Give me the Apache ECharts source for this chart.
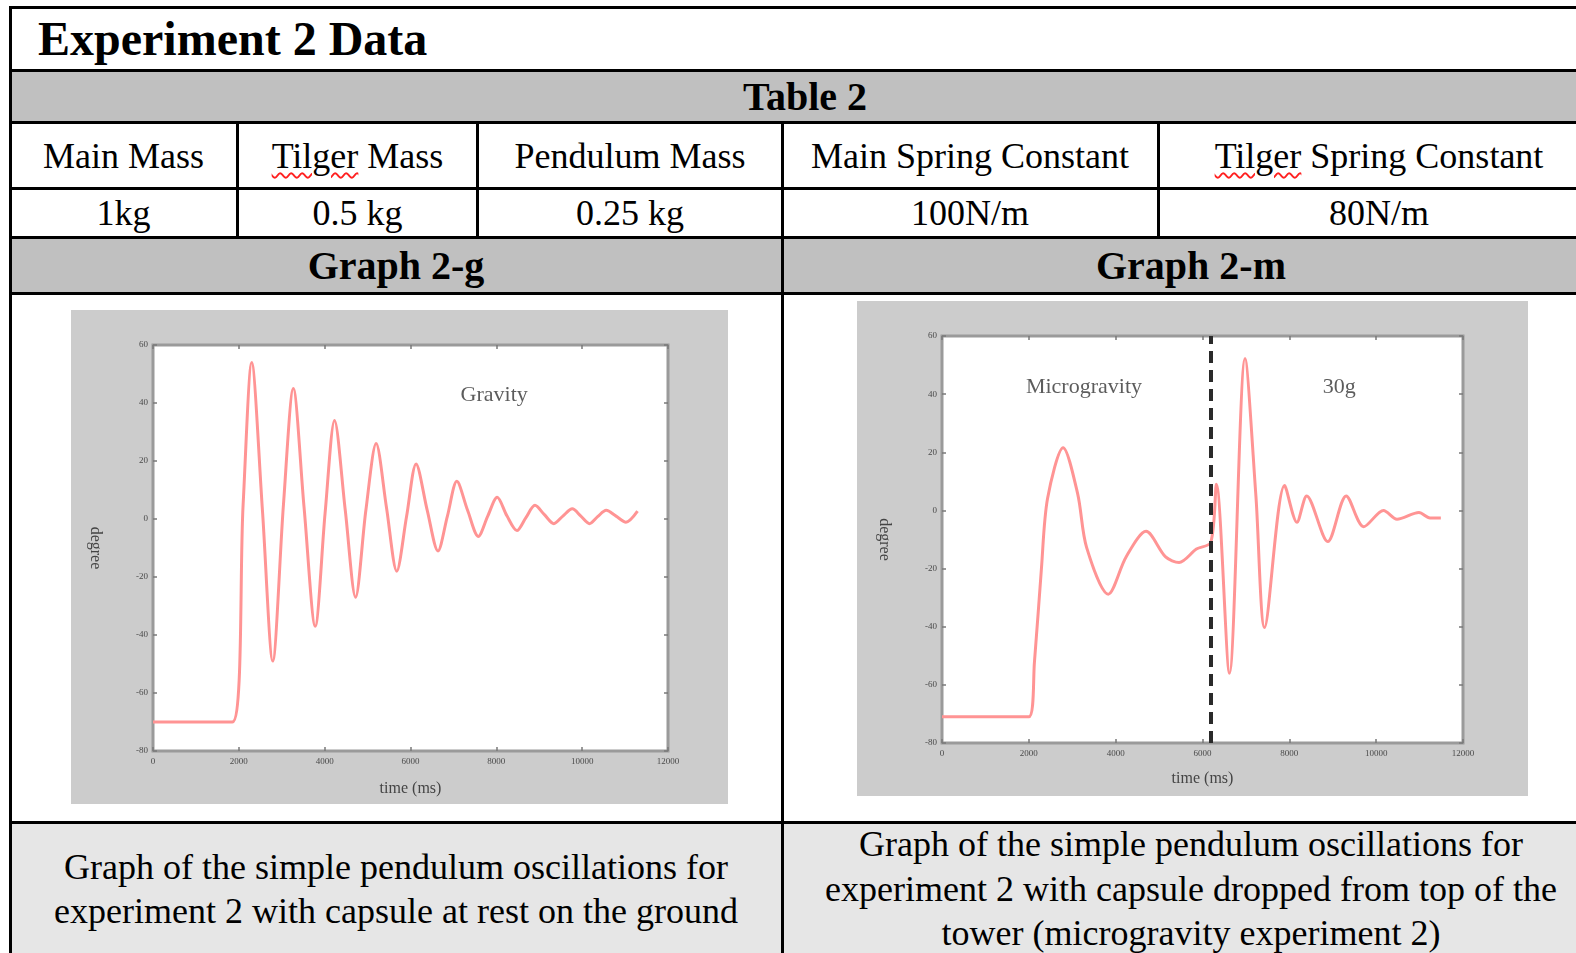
<!DOCTYPE html>
<html>
<head>
<meta charset="utf-8">
<script src="https://cdn.jsdelivr.net/npm/echarts@6/dist/echarts.min.js"></script>
<style>
  html, body { margin: 0; padding: 0; width: 1576px; height: 953px; overflow: hidden; background: #fff; }
  body { position: relative; font-family: "Liberation Serif", "DejaVu Serif", serif; color: #000; }
  .box { position: absolute; box-sizing: border-box; }
  .hl { position: absolute; background: #000; height: 3px; }
  .vl { position: absolute; background: #000; width: 3px; }
  .txt { position: absolute; white-space: nowrap; text-align: center; }
  .wavy { text-decoration: underline wavy #ff2020; text-decoration-thickness: 2px; text-underline-offset: 4px; }
</style>
</head>
<body>
<div id="page"></div>
<div id="chartG" class="box" style="left:71px;top:310px;width:657px;height:494px;"></div>
<div id="chartM" class="box" style="left:857px;top:301px;width:671px;height:495px;"></div>
<script>
// ---------------- data ----------------
const pageTitle = "Experiment 2 Data";
const tableTitle = "Table 2";
const paramNames = ["Main Mass", "Tilger Mass", "Pendulum Mass", "Main Spring Constant", "Tilger Spring Constant"];
const paramValues = ["1kg", "0.5 kg", "0.25 kg", "100N/m", "80N/m"];
const graphTitles = ["Graph 2-g", "Graph 2-m"];
const captions = [
  ["Graph of the simple pendulum oscillations for", "experiment 2 with capsule at rest on the ground"],
  ["Graph of the simple pendulum oscillations for", "experiment 2 with capsule dropped from top of the", "tower (microgravity experiment 2)"]
];

const xTicks = [0, 2000, 4000, 6000, 8000, 10000, 12000];
const yTicks = [-80, -60, -40, -20, 0, 20, 40, 60];

// Graph 2-g (gravity)
const gravityTime = [0, 1850, 2100, 2300, 2550, 2790, 3040, 3270, 3520, 3780, 4010, 4230, 4480, 4720, 4960, 5200, 5440, 5680, 5910, 6130, 6390, 6640, 6860, 7080, 7330, 7580, 7800, 8020, 8250, 8480, 8690, 8900, 9120, 9340, 9550, 9770, 9970, 10170, 10360, 10560, 10790, 11020, 11290];
const gravityDeg  = [-70, -70, 5, 54, 3, -49, 5, 45, 4, -37, 2, 34, 3, -27, 3, 26, 4, -18, 1, 19, 3, -11, 1, 13, 3, -6, 1, 7.5, 1, -4, 0.5, 4.7, 1.5, -1.6, 1, 3.5, 1, -1.6, 0.8, 3, 1, -1.1, 2.7];
const gravityNotes = [{ name: "Gravity", time: 7950, deg: 42.8 }];

// Graph 2-m (microgravity then 30g)
const microTime = [0, 2000, 2130, 2290, 2430, 2790, 3125, 3330, 3830, 4240, 4700, 5150, 5460, 5860, 6190, 6320, 6620, 6980, 7230, 7430, 7890, 8175, 8400, 8885, 9310, 9715, 10170, 10480, 10985, 11240, 11490];
const microDeg  = [-71, -71, -52, -20, 4, 21.6, 5.7, -12.7, -28.8, -16, -7.2, -16, -17.9, -13.3, -11, 9, -56, 52.3, 5, -40.3, 8.6, -4.1, 5, -10.7, 5, -5.6, 0, -3, -0.7, -2.6, -2.6];
const microNotes = [{ name: "Microgravity", time: 3270, deg: 42.5 }, { name: "30g", time: 9150, deg: 42.5 }];
const phaseChangeTime = 6200;

// ---------------- table (HTML layout) ----------------
const page = document.getElementById('page');
function add(html) { page.insertAdjacentHTML('beforeend', html); }
const TW = 1600; // table right edge (off-screen)
// backgrounds
add(`<div class="box" style="left:10px;top:71px;width:${TW-10}px;height:52px;background:#c0c0c0"></div>`);
add(`<div class="box" style="left:10px;top:238px;width:${TW-10}px;height:55px;background:#c0c0c0"></div>`);
add(`<div class="box" style="left:10px;top:823px;width:${TW-10}px;height:140px;background:#e6e6e6"></div>`);
// horizontal lines
[6, 69, 121, 187, 236, 292, 821].forEach(y => add(`<div class="hl" style="left:9px;top:${y}px;width:${TW}px"></div>`));
// vertical lines
add(`<div class="vl" style="left:9px;top:6px;height:960px"></div>`);
[236, 476, 1157].forEach(x => add(`<div class="vl" style="left:${x}px;top:121px;height:118px"></div>`));
add(`<div class="vl" style="left:781px;top:121px;height:840px"></div>`);

// texts
add(`<div class="txt" style="left:38px;top:8px;font-size:48px;font-weight:bold;line-height:62px;text-align:left">${pageTitle}</div>`);
add(`<div class="txt" style="left:10px;width:${TW-10}px;top:71px;font-size:40px;font-weight:bold;line-height:52px">${tableTitle}</div>`);
const colEdges = [10, 237, 478, 782, 1158, TW];
paramNames.forEach((n, i) => {
  const l = colEdges[i], w = colEdges[i+1] - colEdges[i];
  const html = n.replace("Tilger", '<span class="wavy">Tilger</span>');
  add(`<div class="txt" style="left:${l}px;width:${w}px;top:124px;font-size:36px;line-height:64px">${html}</div>`);
  add(`<div class="txt" style="left:${l}px;width:${w}px;top:190px;font-size:36px;line-height:46px">${paramValues[i]}</div>`);
});
const halfEdges = [10, 782, TW];
graphTitles.forEach((t, i) => {
  add(`<div class="txt" style="left:${halfEdges[i]}px;width:${halfEdges[i+1]-halfEdges[i]}px;top:239px;font-size:40px;font-weight:bold;line-height:54px">${t}</div>`);
});
captions.forEach((lines, i) => {
  const n = lines.length, lh = 44.5;
  const top = 889 - n * lh / 2;
  add(`<div class="txt" style="left:${halfEdges[i]}px;width:${halfEdges[i+1]-halfEdges[i]}px;top:${top}px;font-size:36px;line-height:${lh}px">${lines.join('<br>')}</div>`);
});

// ---------------- charts ----------------
function buildOption(times, degs, notes, grid, nameGaps, divider) {
  const lineData = times.map((t, i) => [t, degs[i]]);
  const noteData = notes.map(n => ({ name: n.name, value: [n.time, n.deg] }));
  const tickStyle = { show: true, inside: true, length: 4, lineStyle: { color: '#7a7a7a', width: 1.5 } };
  const lblStyle = { fontSize: 9, color: '#4a4a4a', fontFamily: 'Liberation Serif', formatter: v => String(v) };
  const xBase = { type: 'value', min: xTicks[0], max: xTicks[xTicks.length-1], interval: xTicks[1]-xTicks[0],
    axisLine: { show: false, onZero: false }, splitLine: { show: false }, axisTick: tickStyle };
  const yBase = { type: 'value', min: yTicks[0], max: yTicks[yTicks.length-1], interval: yTicks[1]-yTicks[0],
    axisLine: { show: false, onZero: false }, splitLine: { show: false }, axisTick: tickStyle };
  const series = [{
    type: 'line', data: lineData, showSymbol: false, smooth: 0.3, silent: true,
    lineStyle: { color: '#ff9494', width: 3 }, z: 3
  }, {
    type: 'scatter', data: noteData, symbolSize: 1, itemStyle: { color: 'rgba(0,0,0,0)' }, silent: true,
    label: { show: true, position: 'inside', formatter: p => p.name, fontSize: 22, color: '#333', fontFamily: 'Liberation Serif' }
  }];
  if (divider != null) {
    series[0].markLine = {
      silent: true, symbol: 'none', label: { show: false }, animation: false,
      lineStyle: { type: [12, 7], width: 4, color: '#2a2a2a' },
      data: [{ xAxis: divider }]
    };
  }
  return {
    animation: false,
    backgroundColor: '#cccccc',
    grid: Object.assign({ show: true, backgroundColor: '#fff', borderColor: '#9a9a9a', borderWidth: 3 }, grid),
    xAxis: [
      Object.assign({}, xBase, { position: 'bottom', name: 'time (ms)', nameLocation: 'middle', nameGap: nameGaps.x,
        nameTextStyle: { fontSize: 16, color: '#444', fontFamily: 'Liberation Serif' },
        axisLabel: Object.assign({ margin: 6 }, lblStyle) }),
      Object.assign({}, xBase, { position: 'top', axisLabel: { show: false } })
    ],
    yAxis: [
      Object.assign({}, yBase, { position: 'left', name: 'degree', nameLocation: 'middle', nameGap: nameGaps.y, nameRotate: -90,
        nameTextStyle: { fontSize: 16, color: '#444', fontFamily: 'Liberation Serif' },
        axisLabel: Object.assign({ margin: 5 }, lblStyle) }),
      Object.assign({}, yBase, { position: 'right', axisLabel: { show: false } })
    ],
    series: series
  };
}

const chartG = echarts.init(document.getElementById('chartG'));
chartG.setOption(buildOption(gravityTime, gravityDeg, gravityNotes,
  { left: 82, top: 35, width: 515, height: 406 }, { x: 30, y: 50 }, null));

const chartM = echarts.init(document.getElementById('chartM'));
chartM.setOption(buildOption(microTime, microDeg, microNotes,
  { left: 85, top: 35, width: 521, height: 407 }, { x: 28, y: 50 }, phaseChangeTime));
</script>
</body>
</html>
